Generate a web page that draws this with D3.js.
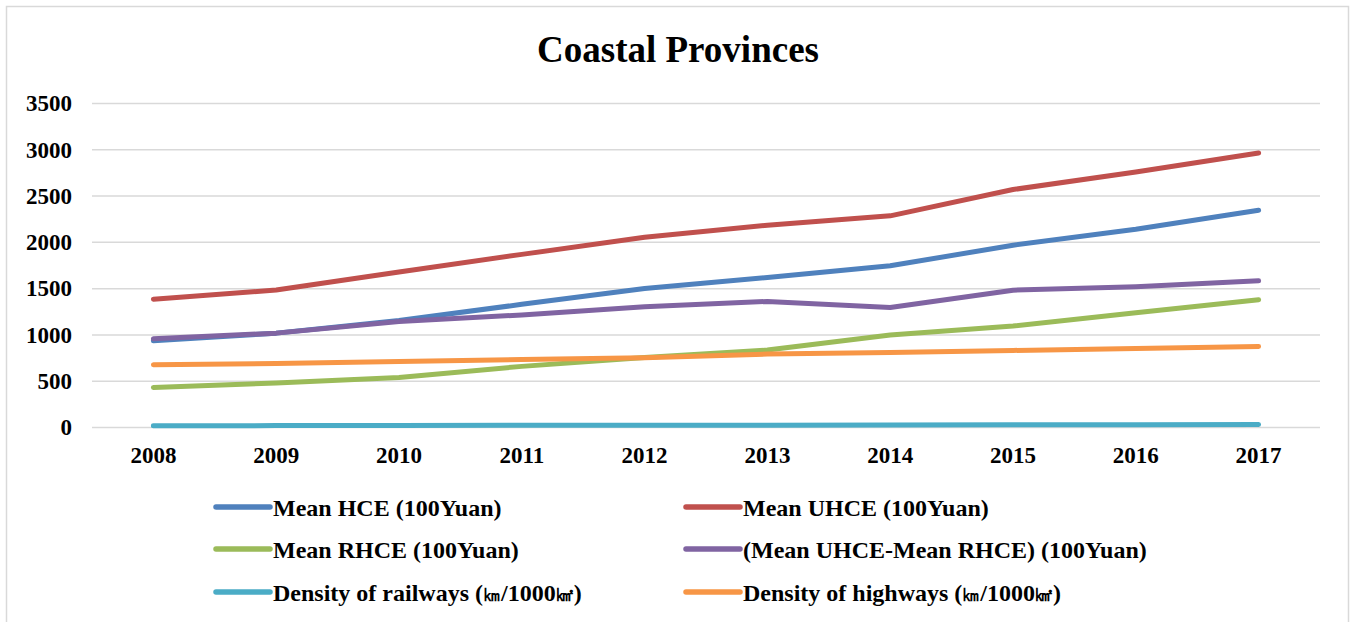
<!DOCTYPE html>
<html>
<head>
<meta charset="utf-8">
<script src="https://cdn.jsdelivr.net/npm/d3@7"></script>
<style>
  body { margin: 0; background: #fff; }
  text { font-family: "Liberation Serif", "Times New Roman", serif; font-weight: bold; fill: #000; }
</style>
</head>
<body>
<svg class="chart"></svg>
<script>
// Total dimensions
var w = 1350,
    h = 622;

// Data
var years = ["2008", "2009", "2010", "2011", "2012", "2013", "2014", "2015", "2016", "2017"];
var meanHCE = [932, 1014, 1151, 1325, 1496, 1615, 1741, 1964, 2137, 2342];
var meanUHCE = [1381, 1480, 1675, 1865, 2050, 2180, 2281, 2565, 2755, 2960];
var meanRHCE = [428, 475, 535, 655, 752, 831, 993, 1090, 1234, 1374];
var gapUR = [953, 1014, 1140, 1210, 1298, 1356, 1291, 1478, 1514, 1579];
var railways = [14, 15, 17, 18, 19, 20, 22, 24, 25, 26];
var highways = [673, 686, 708, 728, 748, 788, 806, 827, 849, 870];
var yTicks = [0, 500, 1000, 1500, 2000, 2500, 3000, 3500];

var seriesNames = [
    "Mean HCE (100Yuan)",
    "Mean UHCE (100Yuan)",
    "Mean RHCE (100Yuan)",
    "(Mean UHCE-Mean RHCE) (100Yuan)",
    "Density of railways (\u339E/1000\u33A2)",
    "Density of highways (\u339E/1000\u33A2)"
];
var seriesValues = [meanHCE, meanUHCE, meanRHCE, gapUR, railways, highways];
var colors = ["#4F81BD", "#C0504D", "#9BBB59", "#8064A2", "#4BACC6", "#F79646"];

var series = seriesNames.map(function(name, i) {
    return { name: name, color: colors[i], values: seriesValues[i] };
});

var svg = d3.select(".chart")
    .attr("width", w)
    .attr("height", h);

// outer frame
svg.append("rect")
    .attr("x", 6.5)
    .attr("y", 6.5)
    .attr("width", 1342)
    .attr("height", 640)
    .attr("fill", "none")
    .attr("stroke", "#d9d9d9")
    .attr("stroke-width", 1.5);

// plot area
var plot = { left: 92, right: 1320, top: 103, bottom: 427 };

var xScale = d3.scaleBand()
    .domain(years)
    .range([plot.left, plot.right]);

var yScale = d3.scaleLinear()
    .domain([0, 3500])
    .range([plot.bottom, plot.top]);

// title
svg.append("text")
    .attr("x", 678)
    .attr("y", 62)
    .attr("text-anchor", "middle")
    .attr("font-size", "37px")
    .text("Coastal Provinces");

// gridlines
var yAxis = d3.axisLeft(yScale)
    .tickValues(yTicks)
    .tickSize(-(plot.right - plot.left))
    .tickPadding(20)
    .tickFormat(d3.format("d"));

var gy = svg.append("g")
    .attr("class", "y axis")
    .attr("transform", "translate(" + plot.left + ",0)")
    .call(yAxis);
gy.select(".domain").remove();
gy.selectAll(".tick line")
    .attr("stroke", "#d9d9d9")
    .attr("stroke-width", 1.5);
gy.selectAll(".tick text")
    .attr("font-size", "23px")
    .attr("font-family", "Liberation Serif, serif")
    .attr("dy", "0.34em");

// x axis labels
var xAxis = d3.axisBottom(xScale)
    .tickSize(0)
    .tickPadding(20);

var gx = svg.append("g")
    .attr("class", "x axis")
    .attr("transform", "translate(0," + plot.bottom + ")")
    .call(xAxis);
gx.select(".domain").remove();
gx.selectAll(".tick text")
    .attr("font-size", "23px")
    .attr("font-family", "Liberation Serif, serif");

// lines
var line = d3.line()
    .x(function(d, i) { return xScale(years[i]) + xScale.bandwidth() / 2; })
    .y(function(d) { return yScale(d); });

svg.append("g")
    .selectAll("path")
    .data(series)
    .enter().append("path")
    .attr("fill", "none")
    .attr("stroke", function(d) { return d.color; })
    .attr("stroke-width", 5)
    .attr("stroke-linejoin", "round")
    .attr("stroke-linecap", "round")
    .attr("d", function(d) { return line(d.values); });

// legend
var legendCols = [214, 684];
var legendRows = [507, 549, 592];

var legend = svg.append("g")
    .selectAll("g")
    .data(series)
    .enter().append("g")
    .attr("transform", function(d, i) {
        return "translate(" + legendCols[i % 2] + "," + legendRows[Math.floor(i / 2)] + ")";
    });

legend.append("line")
    .attr("x1", 2)
    .attr("x2", 56)
    .attr("stroke", function(d) { return d.color; })
    .attr("stroke-width", 5.5)
    .attr("stroke-linecap", "round");

// the unit glyphs (km, km2) are narrower in the original, so set them smaller
legend.append("text")
    .attr("x", 59)
    .attr("y", 8.5)
    .attr("font-size", "24px")
    .each(function(d) {
        var t = d3.select(this);
        d.name.split(/([\u339E\u33A2])/).forEach(function(part) {
            if (!part) return;
            var span = t.append("tspan").text(part);
            if (/[\u339E\u33A2]/.test(part)) span.attr("font-size", "18px");
        });
    });
</script>
</body>
</html>
